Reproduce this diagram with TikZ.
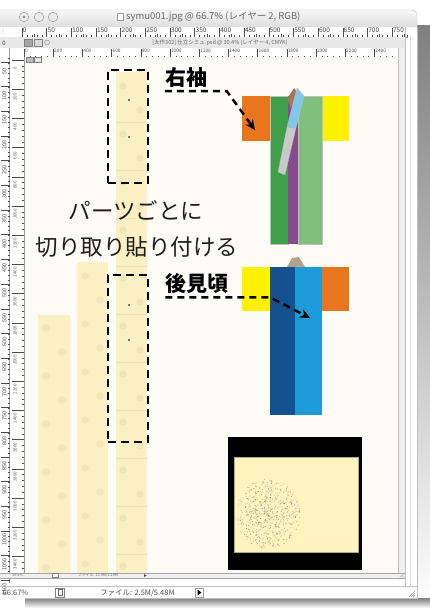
\documentclass[tikz,border=0pt]{standalone}
\usepackage{fontspec}
\newfontfamily\jp{Noto Sans CJK JP}
\usetikzlibrary{arrows.meta}
\definecolor{shade}{HTML}{DCDCDC}
\definecolor{chrome}{HTML}{E8E8E8}
\definecolor{canvas}{HTML}{FCFBF6}
\definecolor{silk}{HTML}{FBF0C3}
\definecolor{motif}{HTML}{EEE3B6}
\definecolor{sodeor}{HTML}{E8761F}
\definecolor{sodeye}{HTML}{FFF100}
\definecolor{greendk}{HTML}{3F9F4A}
\definecolor{greenlt}{HTML}{80BF7C}
\definecolor{plum}{HTML}{8A4A8D}
\definecolor{skyc}{HTML}{80C8EA}
\definecolor{greyc}{HTML}{C9C9C9}
\definecolor{brownc}{HTML}{9E7B56}
\definecolor{tanc}{HTML}{B6A189}
\definecolor{bluedk}{HTML}{15508F}
\definecolor{bluelt}{HTML}{1C9BD8}
\definecolor{paper}{HTML}{FFF4C0}
\definecolor{ink}{HTML}{1E1E1E}
\definecolor{uitext}{HTML}{555555}
\begin{document}
\begin{tikzpicture}[x=1pt,y=-1pt,
  cutbox/.style={draw=black,line width=2.4pt,dash pattern=on 8pt off 5pt,minimum width=40pt,inner sep=0pt},
  caption/.style={font=\jp\fontsize{22.5}{26}\selectfont,text=ink,inner sep=0pt},
  tag/.style={font=\jp\bfseries\fontsize{21}{24}\selectfont,text=black,inner sep=0pt},
  pointer/.style={draw=black,line width=2.4pt,dash pattern=on 7pt off 5pt,-{Stealth[length=10pt,width=9pt]}},
  ui/.style={font=\jp\fontsize{#1}{#1}\selectfont,text=uitext,inner sep=0pt},
  ui/.default=7,
  panel/.style={draw=black!25,line width=0.3pt},
  tick/.style={draw=black!70,line width=0.4pt},
  rosette/.pic={
    \foreach \a in {0,72,...,288} \draw[motif,line width=0.5pt] (\a:1.8) circle (1.2);
    \draw[motif,line width=0.4pt] (0,0) circle (3.4);
  },
]
\useasboundingbox (0,0) rectangle (430,608);
\fill[white] (0,0) rectangle (430,608);
% window shadow
\fill[shade] (417,25) rectangle (430,608);
\fill[shade] (25,598) rectangle (430,608);

% ---------- application window ----------
\fill[white] (0,27) rectangle (417,598);
\draw[black!25,line width=0.4pt] (417,27) -- (417,598) -- (25,598);
\path[top color=black!3,bottom color=black!13] (0,10) [rounded corners=5pt] -- (417,10) [sharp corners] -- (417,27) -- (0,27) -- cycle;
\draw[black!25,line width=0.4pt] (0,10) [rounded corners=5pt] -- (417,10) [sharp corners] -- (417,27);
\foreach \cx in {24,39,53}
  \draw[black!40,fill=black!8,line width=0.5pt] (\cx,17) circle (4.8);
\fill[black!45] (24,17) circle (1.3);
\node[draw=black!40,fill=white,minimum width=6pt,minimum height=7pt,inner sep=0pt] (fileicon) at (120,17) {};
\node[ui=9.5,anchor=west,text=black!60] (wintitle) at (126,17) {symu001.jpg @ 66.7\% (レイヤー 2, RGB)};

% top ruler of the outer document
\fill[white] (0,27) rectangle (408,37);
\draw[black!40,line width=0.3pt] (0,37) -- (408,37);
\foreach \m in {0,...,78} \draw[tick] ({22+4.934*\m},35) -- ++(0,2);
\foreach \m in {0,...,15} \draw[tick] ({34.3+24.67*\m},33.5) -- ++(0,3.5);
\foreach \k in {0,...,15}{
  \draw[tick] ({22+24.67*\k},27.5) -- ++(0,9.5);
  \node[ui=6.5,anchor=north west,text=black!75] at ({22.8+24.67*\k},27.6) {\the\numexpr50*\k\relax};
}
\foreach \yy in {29,31,33} \fill[black!40] (3,\yy) circle (0.5);

% inner document title bar
\fill[chrome] (0,37) rectangle (405,48);
\draw[black!30,line width=0.3pt] (0,48) -- (405,48);
\node[ui=6,text=black!75] (zero) at (4,43) {0};
\node[draw=black!50,fill=black!35,minimum width=8pt,minimum height=7pt,inner sep=0pt] (btnA) at (28,42.5) {};
\node[draw=black!50,fill=black!15,minimum width=8pt,minimum height=7pt,inner sep=0pt] (btnB) at (38,42.5) {};
\draw[black!50,line width=0.4pt] (47,42.5) circle (2.5);
\node[ui=5.5,text=black!60] (doctitle) at (220,43) {[太作302] 仕立シミュ.psd @ 30.4\% (レイヤー 4, CMYK)};

% inner document top ruler
\fill[white] (24,48) rectangle (398,57);
\draw[black!40,line width=0.3pt] (24,57) -- (398,57);
\foreach \m in {0,...,64} \draw[tick] ({24+5.84*\m},55.5) -- ++(0,1.5);
\foreach \k in {0,...,12}{
  \draw[tick] ({24+29.2*\k},48.5) -- ++(0,8.5);
  \node[ui=4.8,anchor=north west,text=black!70] at ({24.8+29.2*\k},48.8) {\the\numexpr200*\k\relax};
}

% left rulers
\fill[white] (0,48) rectangle (24,583);
\draw[black!40,line width=0.3pt] (9.5,48) -- (9.5,583);
\draw[black!40,line width=0.3pt] (24,57) -- (24,578);
\draw[blue!40,line width=0.4pt,dash pattern=on 0.6pt off 0.8pt] (25,57) -- (25,572);
\foreach \m in {0,...,105} \draw[tick] (7.5,{58+4.934*\m}) -- ++(2,0);
\foreach \k in {0,...,21}{
  \draw[tick] (0.5,{62+24.67*\k}) -- ++(9,0);
  \node[ui=5.5,rotate=90,text=black!70] at (4.3,{71+24.67*\k}) {\the\numexpr50*(\k+1)\relax};
}
\foreach \m in {0,...,87} \draw[tick] (21.5,{60+5.84*\m}) -- ++(2.5,0);
\foreach \k in {0,...,17}{
  \draw[tick] (12,{60+29.2*\k}) -- ++(12,0);
  \node[ui=4.5,rotate=90,text=black!65] at (15,{68+29.2*\k}) {\the\numexpr200*\k\relax};
}

% canvas
\fill[canvas] (25,57) rectangle (398,573);
\node[draw=black!50,fill=black!25,minimum width=7pt,minimum height=5pt,inner sep=0pt] (mini1) at (30,60) {};
\node[draw=black!50,fill=black!10,minimum width=7pt,minimum height=5pt,inner sep=0pt] (mini2) at (38,60) {};
% scroll areas on the right
\fill[black!6] (398,48) rectangle (405,578);
\draw[black!25,line width=0.3pt] (398,48) -- (398,578);
\draw[black!25,line width=0.3pt] (405,27) -- (405,586);
\draw[black!15,line width=0.3pt] (410,37) -- (410,586);

% ---------- kimono fabric strips ----------
\begin{scope}
\clip (25,57) rectangle (398,573);
\fill[silk] (38,315) rectangle (70,573);
\fill[silk] (77,262) rectangle (108,573);
\fill[silk] (116,72) rectangle (147,573);
\foreach \k in {0,...,5}{
  \pic at (46,{328+48*\k}) {rosette};
  \pic at (62,{352+48*\k}) {rosette};
}
\foreach \k in {0,...,6}{
  \pic at (85,{276+48*\k}) {rosette};
  \pic at (100,{300+48*\k}) {rosette};
}
\foreach \k in {0,...,10}{
  \pic at (123,{86+48*\k}) {rosette};
  \pic at (140,{110+48*\k}) {rosette};
  \draw[motif,line width=0.4pt] (116,{122+48*\k}) -- (147,{122+48*\k});
}
\end{scope}

% inner document status bar
\fill[black!6] (0,573) rectangle (405,578);
\draw[black!35,line width=0.3pt] (0,573) -- (405,573);
\draw[black!35,line width=0.3pt] (0,578) -- (405,578);
\node[ui=3.8,anchor=west,text=black!60] (zoomA) at (12,575.5) {30.4\%};
\node[draw=black!50,fill=white,minimum width=6pt,minimum height=4pt,inner sep=0pt] (docA) at (55,575.5) {};
\node[ui=3.8,anchor=west,text=black!60] (sizeA) at (78,575.5) {ファイル: 13.9M/1.19M};
\fill[black!70] (144,574) -- (146.5,575.5) -- (144,577) -- cycle;
\foreach \d in {1.5,3,4.5} \draw[black!35,line width=0.3pt] (404-\d,577.5) -- (404,577.5-\d);

% application status bar
\draw[black!25,line width=0.3pt] (0,586) -- (417,586);
\node[ui=7.5,anchor=west,text=black!70] (zoomB) at (2.5,593) {66.67\%};
\node[draw=black!50,fill=white,minimum width=9pt,minimum height=9pt,inner sep=0pt] (docB) at (60,592.5) {};
\draw[black!60,line width=0.5pt] (58,589.5) rectangle (62,595);
\node[ui=7.5,anchor=west,text=black!70] (sizeB) at (100,593) {ファイル: 2.5M/5.48M};
\node[draw=black!40,fill=white,minimum width=8pt,minimum height=9pt,inner sep=0pt] (navB) at (199,592.5) {};
\fill[black] (197.5,589.5) -- (201.5,592.5) -- (197.5,595.5) -- cycle;
\foreach \d in {2,4,6} \draw[black!40,line width=0.4pt] (415-\d,597) -- (415,597-\d);

% cut-out frames
\node[cutbox,minimum height=113pt] (cutA) at (128,126.5) {};
\node[cutbox,minimum height=167pt] (cutB) at (128,358.5) {};
\foreach \yy in {100,137,305,340} \fill[black] (129,\yy) circle (0.8);

% captions
\node[caption] (capA) at (136,210.5) {パーツごとに};
\node[caption] (capB) at (137,247) {切り取り貼り付ける};

% ---------- front view ----------
\fill[sodeor] (242,96) rectangle (270,141);
\fill[sodeye] (322,96) rectangle (349,141);
\fill[greendk,panel] (270,96) rectangle (288,244);
\fill[plum] (288,96) rectangle (298,244);
\fill[greenlt,panel] (298,96) rectangle (322,244);
\fill[brownc] (294,88) -- (287,99) -- (291,108) -- (297,92) -- cycle;
\fill[skyc,draw=black!25,line width=0.3pt] (297,88) -- (304,96) -- (296,128) -- (287,127) -- cycle;
\fill[greyc,draw=black!30,line width=0.3pt] (287,127) -- (296,128) -- (285,175) -- (278,172) -- cycle;
\coordinate (sleeveTip) at (255,130);

% ---------- back view ----------
\fill[tanc] (287,267) -- (292,258) -- (299,257) -- (305,267) -- cycle;
\fill[sodeye] (242,267) rectangle (270,311);
\fill[sodeor] (322,267) rectangle (349,311);
\fill[bluedk] (270,267) rectangle (295,415);
\fill[bluelt] (295,267) rectangle (322,415);
\coordinate (backTip) at (310,318);

% labels and pointers
\node[tag] (sleeve) at (186,78) {右袖};
\node[tag] (back) at (197,284) {後見頃};
\draw[pointer] ([yshift=-3pt]sleeve.south west) -- ++(62,0) -- (sleeveTip);
\draw[pointer] ([yshift=-3pt]back.south west) -- ++(105,0) -- (backTip);

% ---------- finished print ----------
\fill[black] (228,437) rectangle (362,570);
\fill[paper,draw=black!30!paper,line width=0.6pt] (234,457) rectangle (358,552);
\pgfmathsetseed{11}
\foreach \i in {1,...,650}{
  \pgfmathsetmacro\ang{360*rnd}
  \pgfmathsetmacro\rad{rnd^0.6}
  \pgfmathsetmacro\op{0.15+0.45*rnd}
  \fill[black!60,opacity=\op] ({268+32*\rad*cos(\ang)},{514+35*\rad*sin(\ang)}) circle (0.6);
}
\end{tikzpicture}
\end{document}
